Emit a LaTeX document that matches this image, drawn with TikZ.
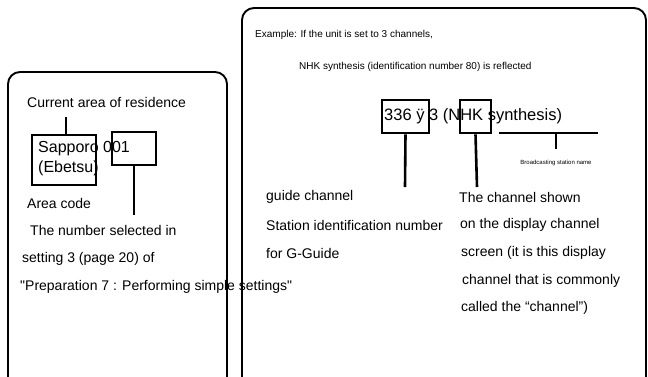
\documentclass[tikz,border=0pt]{standalone}
\usepackage{fontspec}
\setmainfont{Liberation Sans}[Ligatures=TeXOff]
\usetikzlibrary{positioning}

\begin{document}
\begin{tikzpicture}[x=1pt, y=-1pt]
    \tikzstyle{panel} = [draw, line width=1.9pt, rounded corners=12pt]
    \tikzstyle{txt} = [anchor=west, inner sep=0pt, font=\fontsize{14}{16}\selectfont]
    \tikzstyle{small} = [txt, font=\fontsize{10}{12}\selectfont]
    \tikzstyle{markbox} = [draw, line width=2.6pt, inner sep=0pt]
    \tikzstyle{lead} = [draw, line width=2.6pt]

    \useasboundingbox (0,0) rectangle (648,376);

    % left panel
    \draw[panel] (8,72) rectangle (227,392);
    \node[txt] (residence) at (27,102) {Current area of residence};
    \node[anchor=north west, inner sep=0pt, align=left, font=\fontsize{16}{20}\selectfont] (sapporo) at (38,141) {Sapporo 001\\(Ebetsu)};
    \node[markbox, minimum width=64pt, minimum height=50pt] (areabox) at (64,160) {};
    \node[markbox, minimum width=44pt, minimum height=33pt] (selbox) at (134,148.5) {};
    \node[txt] (areacode) at (27,203) {Area code};
    \node[txt] (select1) at (30,230) {The number selected in};
    \node[txt] (select2) at (22,259) {setting 3 (page 20) of};
    \node[txt] (select3) at (20,287) {"Preparation 7 : Performing simple settings"};
    \coordinate (restip) at (66,117);
    \coordinate (seltip) at (134,215);
    \path [lead] (restip) -- (restip |- areabox.north);
    \path [lead] (selbox.south) -- (seltip);

    % right panel
    \draw[panel] (242,8) rectangle (646,392);
    \node[small] (example) at (255,35) {Example: If the unit is set to 3 channels,};
    \node[small] (reflect) at (299,67) {NHK synthesis (identification number 80) is reflected};
    \node[txt, font=\fontsize{16.5}{19}\selectfont] (channel) at (384,116) {336 ÿ 3 (NHK synthesis)};
    \node[markbox, minimum width=47pt, minimum height=33pt] (guidebox) at (405.5,116.5) {};
    \node[markbox, minimum width=31pt, minimum height=33pt] (dispbox) at (475.5,116.5) {};
    \node[inner sep=0pt, font=\fontsize{6}{7}\selectfont] (station) at (556,163) {Broadcasting station name};
    \coordinate (nameL) at (499,133);
    \coordinate (nameR) at (598,133);
    \coordinate (nameM) at (556,133);
    \coordinate (nametip) at (556,149);
    \coordinate (guidetip) at (405,187);
    \coordinate (disptip) at (477,187);
    \path [lead] (guidebox.south) -- (guidetip);
    \path [lead] (dispbox.south) -- (disptip);
    \path [lead] (nameL) -- (nameR);
    \path [draw, line width=2pt] (nameM) -- (nametip);

    \node[txt] (guide1) at (266,197) {guide channel};
    \node[txt, below=28pt of guide1.west, anchor=west] (guide2) {Station identification number};
    \node[txt, below=28pt of guide2.west, anchor=west] (guide3) {for G-Guide};

    \node[txt] (shown1) at (459,197) {The channel shown};
    \node[txt, below=27.8pt of shown1.west, anchor=west, xshift=1pt] (shown2) {on the display channel};
    \node[txt, below=27.8pt of shown2.west, anchor=west, xshift=1pt] (shown3) {screen (it is this display};
    \node[txt, below=27.8pt of shown3.west, anchor=west, xshift=1pt] (shown4) {channel that is commonly};
    \node[txt, below=27.8pt of shown4.west, anchor=west, xshift=-1pt] (shown5) {called the “channel”)};
\end{tikzpicture}
\end{document}
